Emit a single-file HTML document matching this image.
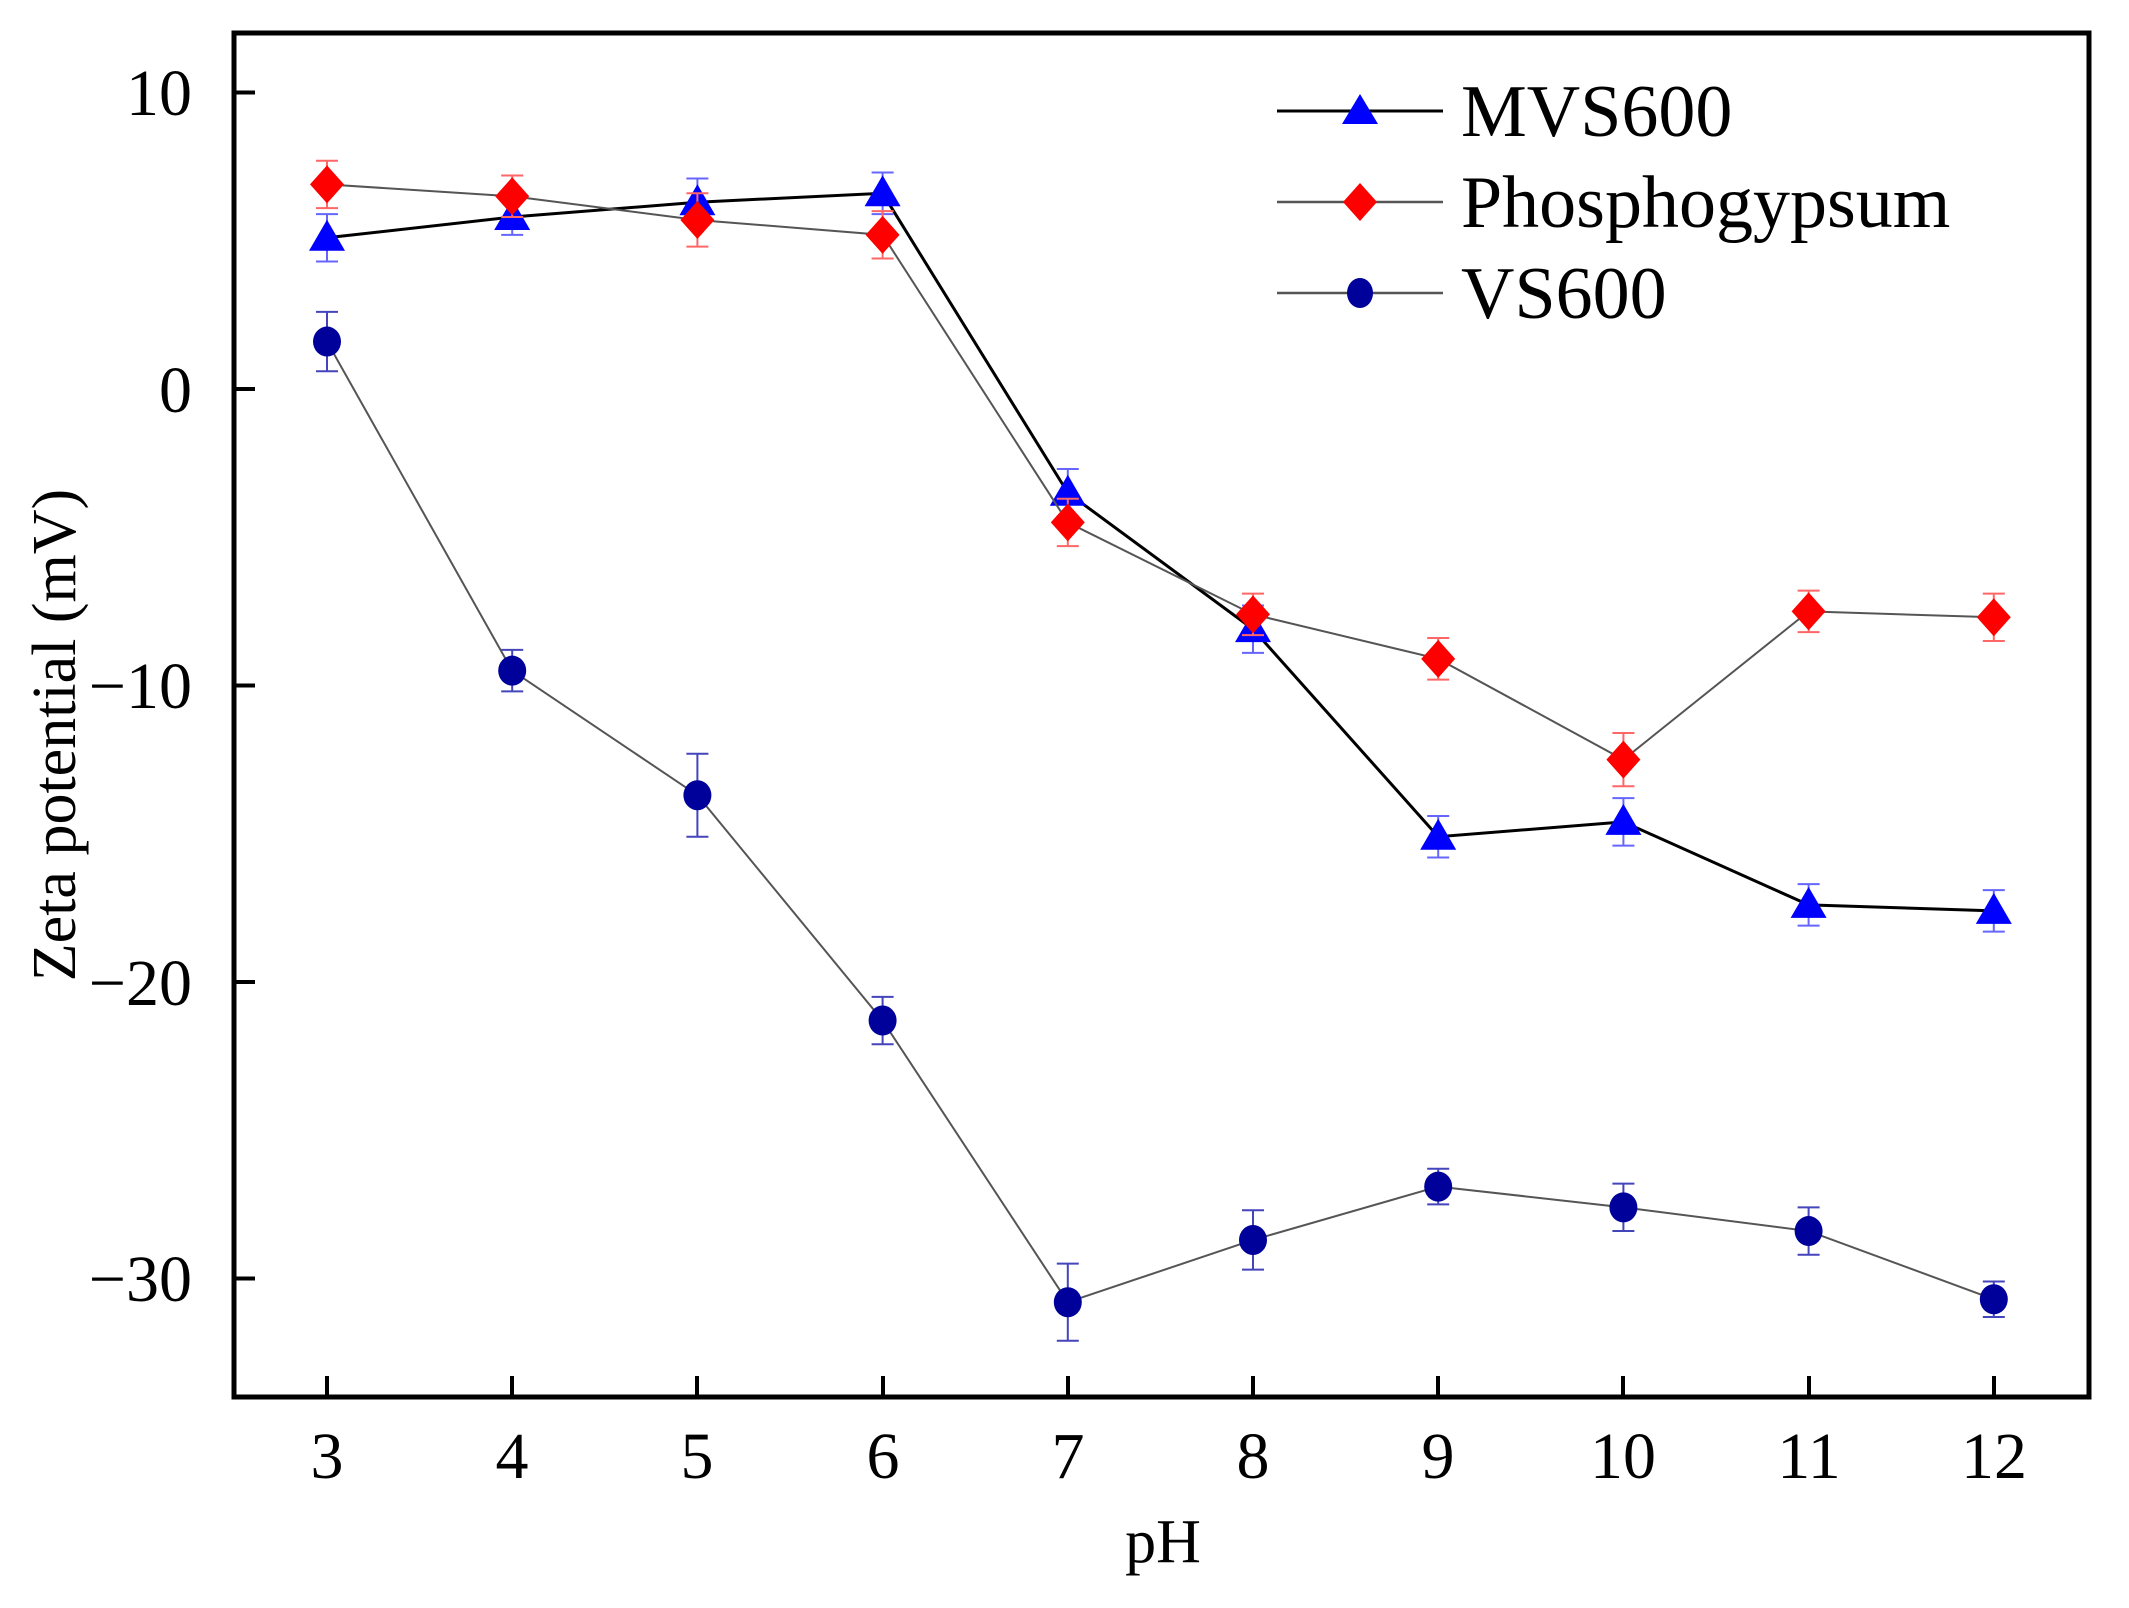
<!DOCTYPE html>
<html><head><meta charset="utf-8"><style>html,body{margin:0;padding:0;background:#fff}svg{display:block}</style></head>
<body>
<svg width="2129" height="1608" viewBox="0 0 2129 1608" xmlns="http://www.w3.org/2000/svg" font-family="Liberation Serif, serif">
<rect width="2129" height="1608" fill="#fff"/>
<g id="plot"></g>
<rect x="234" y="33" width="1855" height="1364" fill="none" stroke="#000" stroke-width="5"/>
<g stroke="#000" stroke-width="4">
<line x1="327" y1="1397" x2="327" y2="1376"/><line x1="512" y1="1397" x2="512" y2="1376"/><line x1="697" y1="1397" x2="697" y2="1376"/><line x1="883" y1="1397" x2="883" y2="1376"/><line x1="1068" y1="1397" x2="1068" y2="1376"/><line x1="1253" y1="1397" x2="1253" y2="1376"/><line x1="1438" y1="1397" x2="1438" y2="1376"/><line x1="1623" y1="1397" x2="1623" y2="1376"/><line x1="1809" y1="1397" x2="1809" y2="1376"/><line x1="1994" y1="1397" x2="1994" y2="1376"/>
<line x1="234" y1="92.5" x2="255" y2="92.5"/><line x1="234" y1="389" x2="255" y2="389"/><line x1="234" y1="685.5" x2="255" y2="685.5"/><line x1="234" y1="982" x2="255" y2="982"/><line x1="234" y1="1278.5" x2="255" y2="1278.5"/>
</g>
<g font-size="66" text-anchor="middle" fill="#000">
<text x="327" y="1478">3</text><text x="512" y="1478">4</text><text x="697" y="1478">5</text><text x="883" y="1478">6</text><text x="1068" y="1478">7</text><text x="1253" y="1478">8</text><text x="1438" y="1478">9</text><text x="1623" y="1478">10</text><text x="1809" y="1478">11</text><text x="1994" y="1478">12</text>
</g>
<g font-size="66" text-anchor="end" fill="#000">
<text x="192" y="115">10</text><text x="192" y="412">0</text><text x="192" y="708">−10</text><text x="192" y="1005">−20</text><text x="192" y="1301">−30</text>
</g>
<text x="1163" y="1562" font-size="62" text-anchor="middle">pH</text>
<text transform="translate(75,735) rotate(-90)" font-size="62" text-anchor="middle">Zeta potential (mV)</text>
<g font-size="74">
<line x1="1277" y1="111" x2="1443" y2="111" stroke="#000" stroke-width="3"/>
<polygon points="1360,94 1378,124 1342,124" fill="#0000ff"/>
<text x="1461" y="136">MVS600</text>
<line x1="1277" y1="202" x2="1443" y2="202" stroke="#555" stroke-width="2.5"/>
<polygon points="1360,183 1377,202 1360,221 1343,202" fill="#ff0000"/>
<text x="1461" y="227">Phosphogypsum</text>
<line x1="1277" y1="293" x2="1443" y2="293" stroke="#555" stroke-width="2.5"/>
<ellipse cx="1360" cy="293" rx="13" ry="15" fill="#00009a"/>
<text x="1461" y="318">VS600</text>
</g>
<script>
(function(){
var X=function(p){return 327+185.2*(p-3)}, Y=function(v){return 389-29.65*v};
var g=document.getElementById('plot'),ns='http://www.w3.org/2000/svg';
function el(t,a){var e=document.createElementNS(ns,t);for(var k in a)e.setAttribute(k,a[k]);g.appendChild(e);return e;}
var S=[
{d:[5.1,5.8,6.3,6.6,-3.5,-8.1,-15.1,-14.6,-17.4,-17.6],e:[0.8,0.6,0.8,0.7,0.8,0.8,0.7,0.8,0.7,0.7],lc:'#000',lw:3,ec:'#6666ff',m:'t',c:'#0000ff'},
{d:[6.9,6.5,5.7,5.2,-4.5,-7.6,-9.1,-12.5,-7.5,-7.7],e:[0.8,0.7,0.9,0.8,0.8,0.7,0.7,0.9,0.7,0.8],lc:'#555',lw:2,ec:'#ff6666',m:'d',c:'#ff0000'},
{d:[1.6,-9.5,-13.7,-21.3,-30.8,-28.7,-26.9,-27.6,-28.4,-30.7],e:[1.0,0.7,1.4,0.8,1.3,1.0,0.6,0.8,0.8,0.6],lc:'#555',lw:2,ec:'#4444bb',m:'c',c:'#00009a'}];
S.forEach(function(s){
var pts=s.d.map(function(v,i){return X(i+3)+','+Y(v)}).join(' ');
el('polyline',{points:pts,fill:'none',stroke:s.lc,'stroke-width':s.lw});
s.d.forEach(function(v,i){var x=X(i+3),y1=Y(v+s.e[i]),y2=Y(v-s.e[i]);
el('line',{x1:x,x2:x,y1:y1,y2:y2,stroke:s.ec,'stroke-width':2});
el('line',{x1:x-11,x2:x+11,y1:y1,y2:y1,stroke:s.ec,'stroke-width':2});
el('line',{x1:x-11,x2:x+11,y1:y2,y2:y2,stroke:s.ec,'stroke-width':2});});
s.d.forEach(function(v,i){var x=X(i+3),y=Y(v);
if(s.m=='t')el('polygon',{points:(x)+','+(y-18)+' '+(x+18)+','+(y+13)+' '+(x-18)+','+(y+13),fill:s.c});
else if(s.m=='d')el('polygon',{points:x+','+(y-19)+' '+(x+17)+','+y+' '+x+','+(y+19)+' '+(x-17)+','+y,fill:s.c});
else el('ellipse',{cx:x,cy:y,rx:14,ry:15,fill:s.c});});
});
})();
</script>
</svg>
</body></html>
